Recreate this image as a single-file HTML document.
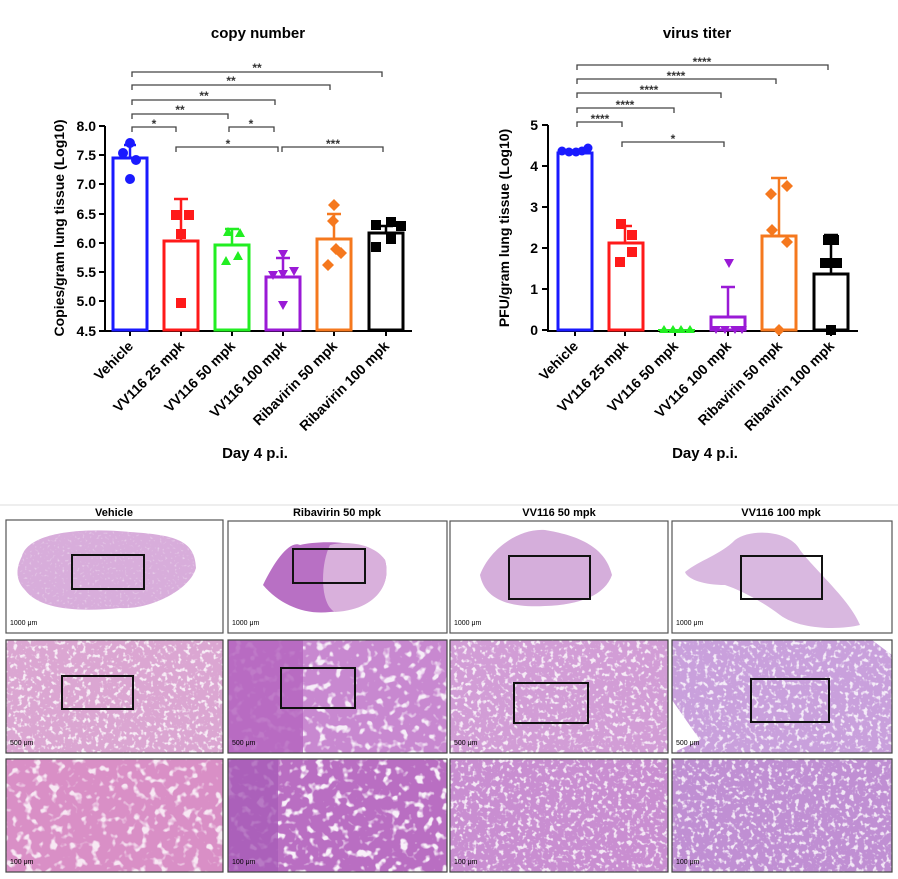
<!DOCTYPE html>
<html><head><meta charset="utf-8"><style>
html,body{margin:0;padding:0;background:#fff;}
svg{display:block;font-family:"Liberation Sans",Arial,sans-serif;}
</style></head><body>
<svg width="898" height="879" viewBox="0 0 898 879" xmlns="http://www.w3.org/2000/svg">
<defs>
<filter id="holes" x="0" y="0" width="100%" height="100%">
<feTurbulence type="fractalNoise" baseFrequency="0.22" numOctaves="2" seed="3"/>
<feColorMatrix values="0 0 0 0 1  0 0 0 0 1  0 0 0 0 1  6 0 0 0 -3.3"/>
</filter>
<filter id="holes2" x="0" y="0" width="100%" height="100%">
<feTurbulence type="fractalNoise" baseFrequency="0.12" numOctaves="2" seed="8"/>
<feColorMatrix values="0 0 0 0 1  0 0 0 0 1  0 0 0 0 1  6 0 0 0 -3.3"/>
</filter>
<filter id="fine" x="0" y="0" width="100%" height="100%">
<feTurbulence type="fractalNoise" baseFrequency="0.4" numOctaves="1" seed="5"/>
<feColorMatrix values="0 0 0 0 1  0 0 0 0 1  0 0 0 0 1  4 0 0 0 -2.4"/>
</filter>
<clipPath id="lung1"><path d="M22,556C30,530 90,528 130,532C175,535 195,540 196,568C190,590 150,610 120,608C80,612 40,610 25,590C15,580 16,568 22,556Z"/></clipPath>
</defs>

<!-- LEFT CHART -->
<text x="258" y="38" text-anchor="middle" font-size="15" font-weight="bold">copy number</text>
<g stroke="#444" stroke-width="1.3" fill="none">
<path d="M132,77V72H382V77"/><path d="M132,90V85H330V90"/><path d="M132,105V100H275V105"/>
<path d="M132,119V114H228V119"/><path d="M132,132V127H176V132"/><path d="M229,132V127H274V132"/>
<path d="M176,152V147H278V152"/><path d="M282,152V147H383V152"/>
</g>
<g font-size="12" font-weight="bold" fill="#333" text-anchor="middle">
<text x="257" y="72">**</text><text x="231" y="85">**</text><text x="204" y="100">**</text><text x="180" y="114">**</text>
<text x="154" y="128">*</text><text x="251" y="128">*</text><text x="228" y="148">*</text><text x="333" y="148">***</text>
</g>
<g stroke="#000" stroke-width="2" fill="none"><path d="M105,126V331H412"/>
<path d="M99,126H105M99,155H105M99,184H105M99,214H105M99,243H105M99,272H105M99,301H105M99,331H105"/>
<path d="M130,331v5M181,331v5M232,331v5M283,331v5M334,331v5M386,331v5"/></g>
<g font-size="14" font-weight="bold" text-anchor="end">
<text x="96" y="131">8.0</text><text x="96" y="160">7.5</text><text x="96" y="189">7.0</text><text x="96" y="219">6.5</text>
<text x="96" y="248">6.0</text><text x="96" y="277">5.5</text><text x="96" y="306">5.0</text><text x="96" y="336">4.5</text></g>
<text transform="translate(64,228) rotate(-90)" text-anchor="middle" font-size="14" font-weight="bold">Copies/gram lung tissue (Log10)</text>
<g fill="none" stroke-width="3">
<rect x="113" y="158" width="34" height="172" stroke="#1a1aff"/>
<rect x="164" y="241" width="34" height="89" stroke="#ff1a1a"/>
<rect x="215" y="245" width="34" height="85" stroke="#22ee22"/>
<rect x="266" y="277" width="34" height="53" stroke="#9a1ad6"/>
<rect x="317" y="239" width="34" height="91" stroke="#f5781e"/>
<rect x="369" y="233" width="34" height="97" stroke="#000"/>
</g>
<g stroke-width="2.5">
<path d="M130,158V145M124,145H136" stroke="#1a1aff"/>
<path d="M181,241V199M174,199H188" stroke="#ff1a1a"/>
<path d="M232,245V229M225,229H239" stroke="#22ee22"/>
<path d="M283,277V258M276,258H290" stroke="#9a1ad6"/>
<path d="M334,239V214M327,214H341" stroke="#f5781e"/>
<path d="M386,233V226M379,226H393" stroke="#000"/>
</g>
<g fill="#1a1aff"><circle cx="130" cy="143" r="5"/><circle cx="123" cy="153" r="5"/><circle cx="136" cy="160" r="5"/><circle cx="130" cy="179" r="5"/></g>
<g fill="#ff1a1a"><rect x="171" y="210" width="10" height="10"/><rect x="184" y="210" width="10" height="10"/><rect x="176" y="229" width="10" height="10"/><rect x="176" y="298" width="10" height="10"/></g>
<g fill="#22ee22"><path d="M228,227l5,9h-10zM240,228l5,9h-10zM226,256l5,9h-10zM238,251l5,9h-10z"/></g>
<g fill="#9a1ad6"><path d="M278,250h10l-5,9zM268,271h10l-5,9zM278,270h10l-5,9zM289,267h10l-5,9zM278,301h10l-5,9z"/></g>
<g fill="#f5781e"><path d="M334,199l6,6-6,6-6-6zM333,215l6,6-6,6-6-6zM336,243l6,6-6,6-6-6zM341,247l6,6-6,6-6-6zM328,259l6,6-6,6-6-6z"/></g>
<g fill="#000"><rect x="371" y="220" width="10" height="10"/><rect x="386" y="217" width="10" height="10"/><rect x="396" y="221" width="10" height="10"/><rect x="371" y="242" width="10" height="10"/><rect x="386" y="234" width="10" height="10"/></g>
<g font-size="14" font-weight="bold" text-anchor="end">
<text transform="translate(134,347) rotate(-45)">Vehicle</text>
<text transform="translate(185,347) rotate(-45)">VV116 25 mpk</text>
<text transform="translate(236,347) rotate(-45)">VV116 50 mpk</text>
<text transform="translate(287,347) rotate(-45)">VV116 100 mpk</text>
<text transform="translate(338,347) rotate(-45)">Ribavirin 50 mpk</text>
<text transform="translate(390,347) rotate(-45)">Ribavirin 100 mpk</text>
</g>
<text x="255" y="458" text-anchor="middle" font-size="15" font-weight="bold">Day 4 p.i.</text>

<!-- RIGHT CHART -->
<text x="697" y="38" text-anchor="middle" font-size="15" font-weight="bold">virus titer</text>
<g stroke="#444" stroke-width="1.3" fill="none">
<path d="M577,70V65H828V70"/><path d="M577,84V79H776V84"/><path d="M577,98V93H721V98"/>
<path d="M577,113V108H674V113"/><path d="M577,127V122H622V127"/><path d="M622,147V142H724V147"/>
</g>
<g font-size="12" font-weight="bold" fill="#333" text-anchor="middle">
<text x="702" y="66">****</text><text x="676" y="80">****</text><text x="649" y="94">****</text>
<text x="625" y="109">****</text><text x="600" y="123">****</text><text x="673" y="143">*</text></g>
<g stroke="#000" stroke-width="2" fill="none"><path d="M548,125V331H858"/>
<path d="M542,125H548M542,166H548M542,207H548M542,248H548M542,289H548M542,330H548"/>
<path d="M575,331v5M625,331v5M675,331v5M728,331v5M779,331v5M831,331v5"/></g>
<g font-size="14" font-weight="bold" text-anchor="end">
<text x="538" y="130">5</text><text x="538" y="171">4</text><text x="538" y="212">3</text><text x="538" y="253">2</text><text x="538" y="294">1</text><text x="538" y="335">0</text></g>
<text transform="translate(509,228) rotate(-90)" text-anchor="middle" font-size="14" font-weight="bold">PFU/gram lung tissue (Log10)</text>
<g fill="none" stroke-width="3">
<rect x="558" y="153" width="34" height="177" stroke="#1a1aff"/>
<rect x="609" y="243" width="34" height="87" stroke="#ff1a1a"/>
<rect x="711" y="317" width="34" height="13" stroke="#9a1ad6"/>
<rect x="762" y="236" width="34" height="94" stroke="#f5781e"/>
<rect x="814" y="274" width="34" height="56" stroke="#000"/>
</g>
<g stroke-width="2.5">
<path d="M625,243V226M618,226H632" stroke="#ff1a1a"/>
<path d="M728,317V287M721,287H735" stroke="#9a1ad6"/>
<path d="M779,236V178M771,178H787" stroke="#f5781e"/>
<path d="M831,274V235M824,235H838" stroke="#000"/>
</g>
<g fill="#1a1aff"><circle cx="562" cy="151" r="4.5"/><circle cx="569" cy="152" r="4.5"/><circle cx="576" cy="152" r="4.5"/><circle cx="582" cy="151" r="4.5"/><circle cx="588" cy="148" r="4.5"/></g>
<g fill="#ff1a1a"><rect x="616" y="219" width="10" height="10"/><rect x="627" y="230" width="10" height="10"/><rect x="627" y="247" width="10" height="10"/><rect x="615" y="257" width="10" height="10"/></g>
<g fill="#22ee22"><path d="M664,325l5,8h-10zM673,325l5,8h-10zM681,325l5,8h-10zM690,325l5,8h-10z"/><rect x="658" y="329" width="37" height="2"/></g>
<g fill="#9a1ad6"><path d="M724,259h10l-5,9zM711,326h10l-5,8zM720,326h10l-5,8zM730,326h10l-5,8zM737,326h10l-5,8z"/></g>
<g fill="#f5781e"><path d="M771,188l6,6-6,6-6-6zM787,180l6,6-6,6-6-6zM772,224l6,6-6,6-6-6zM787,236l6,6-6,6-6-6zM779,324l6,6-6,6-6-6z"/></g>
<g fill="#000"><rect x="823" y="235" width="16" height="10"/><rect x="820" y="258" width="22" height="10"/><rect x="826" y="325" width="10" height="10"/></g>
<g font-size="14" font-weight="bold" text-anchor="end">
<text transform="translate(579,347) rotate(-45)">Vehicle</text>
<text transform="translate(629,347) rotate(-45)">VV116 25 mpk</text>
<text transform="translate(679,347) rotate(-45)">VV116 50 mpk</text>
<text transform="translate(732,347) rotate(-45)">VV116 100 mpk</text>
<text transform="translate(783,347) rotate(-45)">Ribavirin 50 mpk</text>
<text transform="translate(835,347) rotate(-45)">Ribavirin 100 mpk</text>
</g>
<text x="705" y="458" text-anchor="middle" font-size="15" font-weight="bold">Day 4 p.i.</text>

<!-- HISTOLOGY -->
<line x1="0" y1="505" x2="898" y2="505" stroke="#ddd" stroke-width="1"/>
<g font-size="11" font-weight="bold" text-anchor="middle">
<text x="114" y="516">Vehicle</text><text x="337" y="516">Ribavirin 50 mpk</text><text x="559" y="516">VV116 50 mpk</text><text x="781" y="516">VV116 100 mpk</text></g>

<!-- row 1 -->
<g stroke="#555" stroke-width="1.2" fill="#fff">
<rect x="6" y="520" width="217" height="113"/><rect x="228" y="521" width="219" height="112"/>
<rect x="450" y="521" width="218" height="112"/><rect x="672" y="521" width="220" height="112"/></g>
<path d="M22,556C30,530 90,528 130,532C175,535 195,540 196,568C190,590 150,610 120,608C80,612 40,610 25,590C15,580 16,568 22,556Z" fill="#d8addb"/>
<g clip-path="url(#lung1)"><rect x="15" y="525" width="185" height="90" filter="url(#fine)" opacity="0.5"/></g>
<path d="M263,585C275,560 290,540 300,545C320,540 370,540 385,560C392,585 375,610 330,612C305,615 280,605 263,585Z" fill="#b870c4"/>
<path d="M330,545C350,540 375,545 385,560C392,585 375,610 335,612C320,605 320,565 330,545Z" fill="#d9b0dc"/>
<path d="M480,575C490,548 520,528 545,530C575,535 605,545 612,575C605,595 580,605 545,606C510,608 485,600 480,575Z" fill="#d5aedb"/>
<path d="M685,572C700,560 720,555 735,540C750,528 790,530 800,550C815,570 850,600 860,625C840,630 800,630 780,615C760,600 740,590 725,585C705,585 688,580 685,572Z" fill="#d9b8e0"/>
<g fill="none" stroke="#111" stroke-width="2">
<rect x="72" y="555" width="72" height="34"/><rect x="293" y="549" width="72" height="34"/>
<rect x="509" y="556" width="81" height="43"/><rect x="741" y="556" width="81" height="43"/></g>
<g font-size="7" fill="#000"><text x="10" y="625">1000 μm</text><text x="232" y="625">1000 μm</text><text x="454" y="625">1000 μm</text><text x="676" y="625">1000 μm</text></g>

<!-- row 2 -->
<rect x="6" y="640" width="217" height="113" fill="#dba6d2"/><rect x="6" y="640" width="217" height="113" filter="url(#holes)" opacity="0.8"/>
<rect x="228" y="640" width="219" height="113" fill="#c888d0"/><rect x="228" y="640" width="219" height="113" filter="url(#holes2)" opacity="0.85"/>
<rect x="228" y="640" width="75" height="113" fill="#b566c0" opacity="0.85"/>
<rect x="450" y="640" width="218" height="113" fill="#d29dd6"/><rect x="450" y="640" width="218" height="113" filter="url(#holes)" opacity="0.8"/>
<rect x="672" y="640" width="220" height="113" fill="#c9a0dc"/><rect x="672" y="640" width="220" height="113" filter="url(#holes)" opacity="0.8"/>
<path d="M672,700L700,740L672,753Z" fill="#fff"/><path d="M872,640L892,655V640Z" fill="#fff"/>
<g fill="none" stroke="#444" stroke-width="1.2">
<rect x="6" y="640" width="217" height="113"/><rect x="228" y="640" width="219" height="113"/>
<rect x="450" y="640" width="218" height="113"/><rect x="672" y="640" width="220" height="113"/></g>
<g fill="none" stroke="#111" stroke-width="2">
<rect x="62" y="676" width="71" height="33"/><rect x="281" y="668" width="74" height="40"/>
<rect x="514" y="683" width="74" height="40"/><rect x="751" y="679" width="78" height="43"/></g>
<g font-size="7" fill="#000"><text x="10" y="745">500 μm</text><text x="232" y="745">500 μm</text><text x="454" y="745">500 μm</text><text x="676" y="745">500 μm</text></g>

<!-- row 3 -->
<rect x="6" y="759" width="217" height="113" fill="#d98fc6"/><rect x="6" y="759" width="217" height="113" filter="url(#holes2)" opacity="0.8"/>
<rect x="228" y="759" width="219" height="113" fill="#b96ec2"/><rect x="228" y="759" width="219" height="113" filter="url(#holes2)" opacity="0.9"/>
<rect x="228" y="759" width="50" height="113" fill="#a85cb8" opacity="0.8"/>
<rect x="450" y="759" width="218" height="113" fill="#c98ed1"/><rect x="450" y="759" width="218" height="113" filter="url(#holes)" opacity="0.8"/>
<rect x="672" y="759" width="220" height="113" fill="#c08fd3"/><rect x="672" y="759" width="220" height="113" filter="url(#holes)" opacity="0.8"/>
<g fill="none" stroke="#444" stroke-width="1.2">
<rect x="6" y="759" width="217" height="113"/><rect x="228" y="759" width="219" height="113"/>
<rect x="450" y="759" width="218" height="113"/><rect x="672" y="759" width="220" height="113"/></g>
<g font-size="7" fill="#000"><text x="10" y="864">100 μm</text><text x="232" y="864">100 μm</text><text x="454" y="864">100 μm</text><text x="676" y="864">100 μm</text></g>
</svg>
</body></html>
